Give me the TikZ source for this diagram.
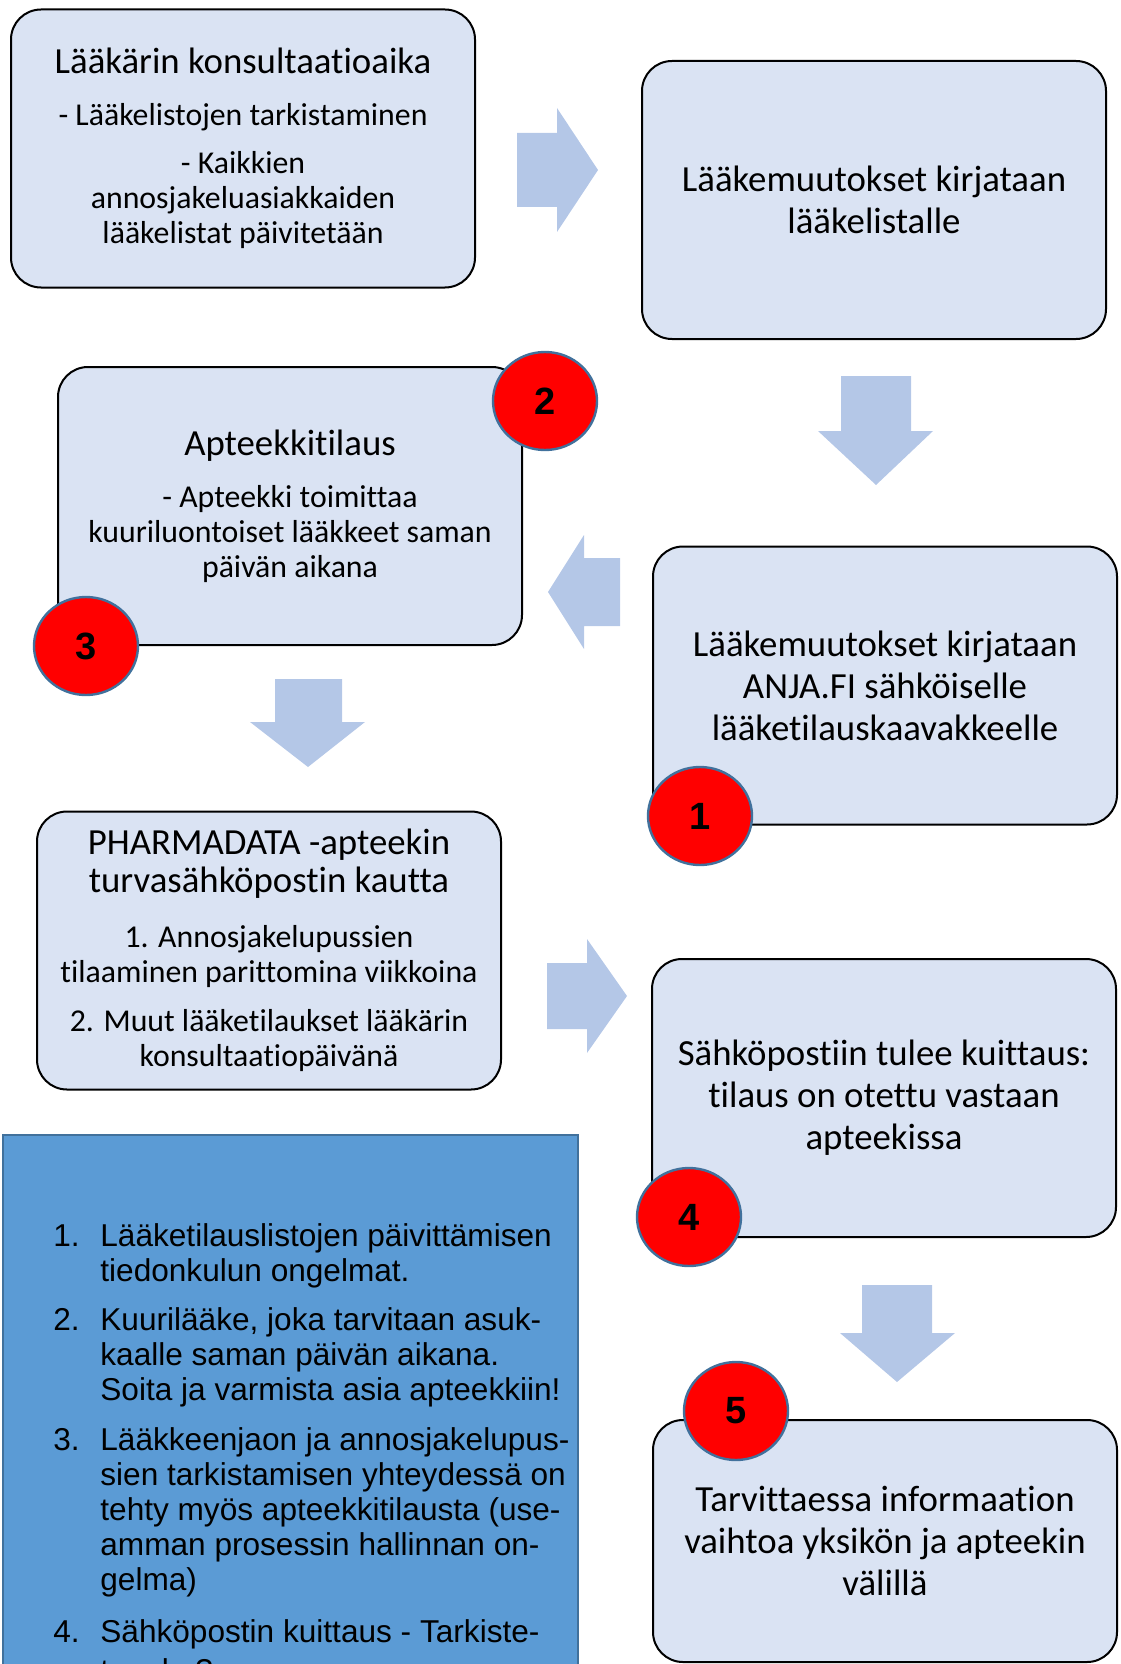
\documentclass[tikz,border=0pt]{standalone}
\usepackage{fontspec}
\setmainfont{Carlito}[Ligatures=NoCommon]
\newfontfamily\arialf{Liberation Sans}
\usetikzlibrary{shapes.geometric}
\definecolor{boxfill}{HTML}{DAE3F3}
\definecolor{arrowfill}{HTML}{B4C7E7}
\definecolor{listfill}{HTML}{5B9BD5}
\definecolor{listborder}{HTML}{41719C}
\definecolor{circborder}{HTML}{41719C}
\newcommand\fbig{\fontsize{18.4pt}{21pt}\selectfont}
\newcommand\fsub{\fontsize{15.9pt}{17.5pt}\selectfont}
\newcommand\fnum{\arialf\bfseries\fontsize{19pt}{22pt}\selectfont}
\newcommand\flist{\arialf\fontsize{15.8pt}{17.5pt}\selectfont}
\begin{document}
\begin{tikzpicture}[x=0.5pt,y=-0.5pt,
  box/.style={draw=black, line width=1pt, fill=boxfill, rounded corners=15pt,
    minimum width=232pt, minimum height=139pt, align=center, inner sep=0pt, font=\fbig},
  numc/.style={ellipse, draw=circborder, line width=1.2pt, fill=red,
    minimum width=52pt, minimum height=49pt, inner sep=0pt, font=\fnum},
  blockarrow/.style={fill=arrowfill},
  listline/.style={anchor=base west, inner sep=0pt, font=\flist},
]
\useasboundingbox (0,0) rectangle (1120,1664);
\clip (0,0) rectangle (1120,1664);

% notes panel
\node[draw=listborder, line width=0.8pt, fill=listfill, anchor=north west,
  minimum width=287.5pt, minimum height=280pt, inner sep=0pt] (notes) at (2,1134) {};

% process boxes
\node[box] (A) at (243,148.5) {Lääkärin konsultaatioaika\\[5pt]
  {\fsub - Lääkelistojen tarkistaminen}\\[3pt]
  {\fsub - Kaikkien}\\[-3.5pt]
  {\fsub annosjakeluasiakkaiden}\\[-3.5pt]
  {\fsub lääkelistat päivitetään}};
\node[box] (B) at (874,200) {Lääkemuutokset kirjataan\\lääkelistalle};
\node[box] (C) at (290,506) {Apteekkitilaus\\[5pt]
  {\fsub - Apteekki toimittaa}\\[-3.5pt]
  {\fsub kuuriluontoiset lääkkeet saman}\\[-3.5pt]
  {\fsub päivän aikana}};
\node[box] (D) at (885,685.5) {Lääkemuutokset kirjataan\\ANJA.FI sähköiselle\\lääketilauskaavakkeelle};
\node[box] (E) at (269,950.5) {PHARMADATA -apteekin\\[-2pt]turvasähköpostin kautta\\[6.5pt]
  {\fsub 1. Annosjakelupussien}\\[-3.5pt]
  {\fsub tilaaminen parittomina viikkoina}\\[3.5pt]
  {\fsub 2. Muut lääketilaukset lääkärin}\\[-3.5pt]
  {\fsub konsultaatiopäivänä}};
\node[box] (F) at (884,1098) {Sähköpostiin tulee kuittaus:\\tilaus on otettu vastaan\\apteekissa};
\node[box, minimum height=121pt] (G) at (885,1541) {Tarvittaessa informaation\\vaihtoa yksikön ja apteekin\\välillä};

% block arrows
\fill[blockarrow] (517,133) -- (557,133) -- (557,108) -- (598,170) -- (557,232) -- (557,207) -- (517,207) -- cycle;
\fill[blockarrow] (841,376) -- (911,376) -- (911,431) -- (933,431) -- (876,485) -- (818,431) -- (841,431) -- cycle;
\fill[blockarrow] (620,558) -- (584,558) -- (584,535) -- (548,592) -- (584,649) -- (584,626) -- (620,626) -- cycle;
\fill[blockarrow] (275,679) -- (342,679) -- (342,722) -- (365,722) -- (308,767) -- (250,722) -- (275,722) -- cycle;
\fill[blockarrow] (547,963) -- (587,963) -- (587,939) -- (627,996) -- (587,1053) -- (587,1029) -- (547,1029) -- cycle;
\fill[blockarrow] (862,1285) -- (932,1285) -- (932,1333) -- (955,1333) -- (897,1382) -- (840,1333) -- (862,1333) -- cycle;

% numbered markers
\node[numc] (n1) at (700,816) {1};
\node[numc] (n2) at (545,401) {2};
\node[numc] (n3) at (86,646) {3};
\node[numc] (n4) at (689,1217) {4};
\node[numc] (n5) at (736,1411) {5};

% notes list
\node[listline] (k1) at (53,1246) {1.};
\node[listline] (t1a) at (100,1246) {Lääketilauslistojen päivittämisen};
\node[listline] (t1b) at (100,1281) {tiedonkulun ongelmat.};
\node[listline] (k2) at (53,1330) {2.};
\node[listline] (t2a) at (100,1330) {Kuurilääke, joka tarvitaan asuk-};
\node[listline] (t2b) at (100,1365) {kaalle saman päivän aikana.};
\node[listline] (t2c) at (100,1400) {Soita ja varmista asia apteekkiin!};
\node[listline] (k3) at (53,1450) {3.};
\node[listline] (t3a) at (100,1450) {Lääkkeenjaon ja annosjakelupus-};
\node[listline] (t3b) at (100,1485) {sien tarkistamisen yhteydessä on};
\node[listline] (t3c) at (100,1520) {tehty myös apteekkitilausta (use-};
\node[listline] (t3d) at (100,1555) {amman prosessin hallinnan on-};
\node[listline] (t3e) at (100,1590) {gelma)};
\node[listline] (k4) at (53,1642) {4.};
\node[listline] (t4a) at (100,1642) {Sähköpostin kuittaus - Tarkiste-};
\node[listline] (t4b) at (100,1681) {taanko?};
\end{tikzpicture}
\end{document}
